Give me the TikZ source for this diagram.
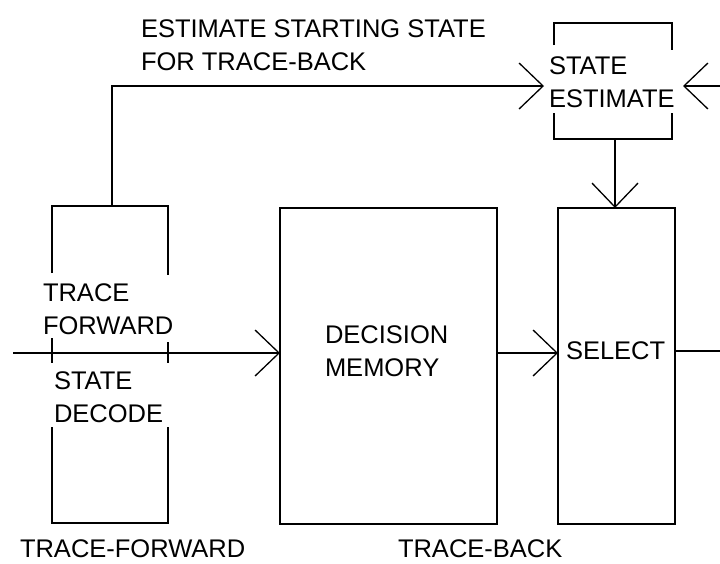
\documentclass[tikz,border=0pt]{standalone}
\usepackage{fontspec}
\setmainfont{Liberation Sans}
\usetikzlibrary{arrows.meta}
\begin{document}
\begin{tikzpicture}[x=1pt,y=-1pt,
  line width=1.3pt,
  every node/.style={inner sep=0pt,outer sep=0pt},
  lbl1/.style={anchor=base west,font=\fontsize{25.5}{33}\selectfont},
  lbl/.style={lbl1,align=left},
  blk/.style={draw,rectangle},
  ghost/.style={rectangle},
  barb/.style={-{Straight Barb[length=24pt,width=46pt,line width=1.3pt]}}]
\useasboundingbox[fill=white] (0,0) rectangle (720,563);
% boxes
\node[ghost,minimum width=116pt,minimum height=317pt] (tf) at (110,364.5) {};
\node[blk,minimum width=217pt,minimum height=316pt] (dm) at (388.5,366) {};
\node[blk,minimum width=117pt,minimum height=316pt] (sel) at (616.5,366) {};
\node[ghost,minimum width=118pt,minimum height=116pt] (se) at (613,81) {};
% trace forward box with gaps
\draw (tf.north west |- 0,273) -- (tf.north west) -- (tf.north east) -- (tf.north east |- 0,275);
\draw (tf.north west |- 0,338) -- (tf.north west |- 0,363);
\draw (tf.north east |- 0,342) -- (tf.north east |- 0,363);
\draw (tf.north west |- 0,427) -- (tf.south west) -- (tf.south east) -- (tf.north east |- 0,427);
% state estimate box with gaps
\draw (se.north west |- 0,45) -- (se.north west) -- (se.north east) -- (se.north east |- 0,50);
\draw (se.north west |- 0,113) -- (se.south west) -- (se.south east) -- (se.north east |- 0,113);
% texts
\node[lbl] (t1) at (43,334) {TRACE\\FORWARD};
\node[lbl] (t2) at (54,422) {STATE\\DECODE};
\node[lbl] (t3) at (325,376) {DECISION\\MEMORY};
\node[lbl1] (t4) at (566,359) {SELECT};
\node[lbl] (t5) at (549,107) {STATE\\ESTIMATE};
\node[lbl] (t6) at (141,70) {ESTIMATE STARTING STATE\\FOR TRACE-BACK};
\node[lbl1] (t7) at (20,557) {TRACE-FORWARD};
\node[lbl1] (t8) at (398,557) {TRACE-BACK};
% connectors
\coordinate (in) at (13,353);
\coordinate (out) at (720,351);
\coordinate (rin) at (720,86);
\coordinate (fb) at (112,86);
\coordinate (seL) at ([xshift=-10pt]se.west |- 0,86);
\coordinate (seR) at ([xshift=11pt]se.east |- 0,86);
\draw[barb] (in) -- (in -| dm.west);
\draw[barb] (dm.east |- 0,353) -- (sel.west |- 0,353);
\draw (sel.east |- out) -- (out);
\draw[barb] (fb |- tf.north) -- (fb) -- (seL);
\draw[barb] (rin) -- (seR);
\draw[barb] ([xshift=2pt]se.south) -- ([xshift=2pt]se.south |- sel.north);
\end{tikzpicture}
\end{document}
